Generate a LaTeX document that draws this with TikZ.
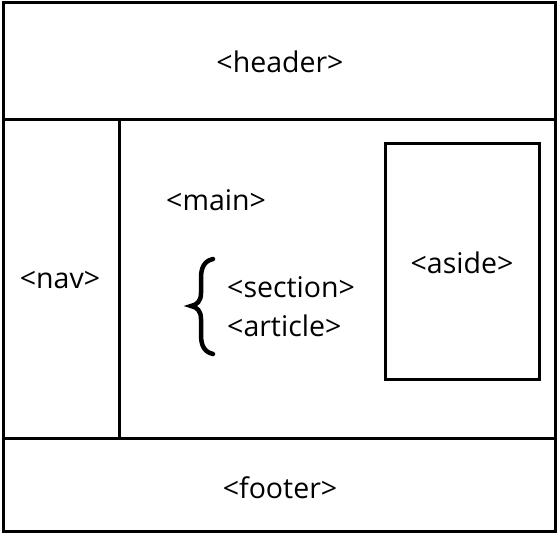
\documentclass[tikz,border=0pt]{standalone}
\usepackage{fontspec}
\setmainfont{Open Sans}
\begin{document}
\begin{tikzpicture}[x=1pt,y=-1pt,
  frame/.style={draw=black,line width=3pt},
  lbl/.style={font=\fontsize{28.5}{34}\selectfont,inner sep=0pt}]
\useasboundingbox (0,0) rectangle (559,535);
% outer and partitions
\draw[frame] (3,3) rectangle (555.5,531.5);
\draw[frame] (3,119.5) -- (555.5,119.5);
\draw[frame] (3,438.5) -- (555.5,438.5);
\draw[frame] (119.5,119.5) -- (119.5,438.5);
\draw[frame] (385,143.5) rectangle (539,379.5);
% labels
\node[lbl] (header) at (280,62) {<header>};
\node[lbl] (nav) at (60,280) {<nav>};
\node[lbl,anchor=west] (main) at (166,200) {<main>};
\node[lbl,anchor=west] (section) at (227,287) {<section>};
\node[lbl,anchor=west] (article) at (227,326) {<article>};
\node[lbl] (aside) at (462,263) {<aside>};
\node[lbl] (footer) at (280,488) {<footer>};
% brace
\draw[line width=4.5pt,line cap=round]
  (213,259) .. controls (204,261) and (201,268) .. (201,278)
  -- (201,293) .. controls (201,301) and (197,305) .. (191,306)
  .. controls (197,307) and (201,311) .. (201,319)
  -- (201,335) .. controls (201,345) and (204,352) .. (213,354);
\end{tikzpicture}
\end{document}
